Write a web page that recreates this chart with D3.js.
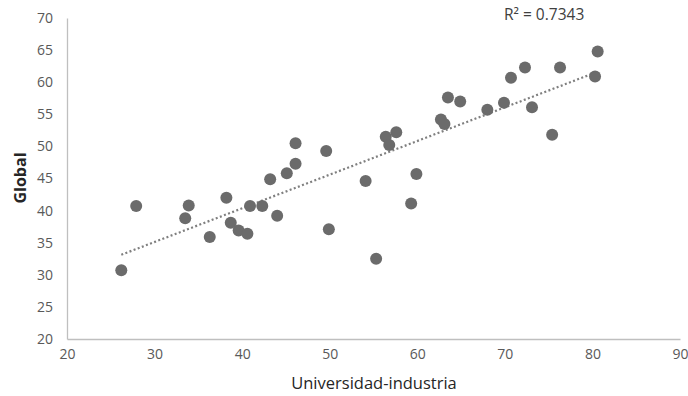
<!DOCTYPE html>
<html>
<head>
<meta charset="utf-8">
<script src="https://cdn.jsdelivr.net/npm/d3@7"></script>
<style>
  body { margin: 0; background: #fff; }
  text { font-family: "Open Sans", sans-serif; }
</style>
</head>
<body>
<script>
// data
var uniInd = [26.2, 27.9, 33.5, 33.9, 36.3, 38.2, 38.7, 39.6, 40.6, 40.9, 42.3, 44.0, 43.2, 45.1, 46.1, 46.1,
  49.6, 49.9, 54.1, 55.3, 56.4, 56.8, 57.6, 59.3, 59.9, 62.7, 63.1, 63.5, 64.9, 68.0, 69.9, 70.7, 72.3, 73.1,
  75.4, 76.3, 80.3, 80.6];
var global = [30.7, 40.7, 38.8, 40.8, 35.9, 42.0, 38.1, 36.9, 36.4, 40.7, 40.7, 39.2, 44.9, 45.8, 50.5, 47.3,
  49.3, 37.1, 44.6, 32.5, 51.5, 50.2, 52.2, 41.1, 45.7, 54.2, 53.5, 57.6, 57.0, 55.7, 56.8, 60.7, 62.3, 56.1,
  51.8, 62.3, 60.9, 64.8];
var xTicks = [20, 30, 40, 50, 60, 70, 80, 90];
var yTicks = [20, 25, 30, 35, 40, 45, 50, 55, 60, 65, 70];
var r2Label = "R\u00b2 = 0.7343";

var svgWidth = 688, svgHeight = 396;
var margin = {top: 18, right: 8, bottom: 57, left: 67};
var width = svgWidth - margin.left - margin.right;
var height = svgHeight - margin.top - margin.bottom;

var svg = d3.select("body").append("svg").attr("width", svgWidth).attr("height", svgHeight);
var chart = svg.append("g").attr("transform", `translate(${margin.left},${margin.top})`);

var x = d3.scaleLinear().domain([20, 90]).range([0, width]);
var y = d3.scaleLinear().domain([20, 70]).range([height, 0]);

var pts = uniInd.map(function(v, i) { return {x: v, y: global[i]}; });

// axes
chart.append("g")
  .attr("transform", "translate(0," + height + ")")
  .call(d3.axisBottom(x).tickValues(xTicks).tickSize(0).tickPadding(10))
  .call(function(g) {
    g.select(".domain").attr("stroke", "#bfbfbf").attr("stroke-width", 1.3);
    g.selectAll("text").attr("fill", "#595959").style("font-size", "14px").attr("font-family", null);
  });

chart.append("g")
  .call(d3.axisLeft(y).tickValues(yTicks).tickSize(0).tickPadding(14))
  .call(function(g) {
    g.select(".domain").attr("stroke", "#bfbfbf").attr("stroke-width", 1.3);
    g.selectAll("text").attr("fill", "#595959").style("font-size", "14px").attr("font-family", null);
  });

// axis titles
svg.append("text")
  .attr("text-anchor", "middle")
  .attr("x", 374).attr("y", 389)
  .attr("fill", "#262626")
  .style("font-size", "16.5px")
  .text("Universidad-industria");

svg.append("text")
  .attr("text-anchor", "middle")
  .attr("transform", "translate(26,178)rotate(-90)")
  .attr("fill", "#262626")
  .style("font-size", "16px")
  .style("font-weight", "bold")
  .text("Global");

// linear trend from the points
var mx = d3.mean(uniInd), my = d3.mean(global);
var slope = d3.sum(pts, function(d) { return (d.x - mx) * (d.y - my); }) /
  d3.sum(pts, function(d) { return (d.x - mx) * (d.x - mx); });
var icpt = my - slope * mx;
var xr = d3.extent(uniInd);

chart.append("line")
  .attr("x1", x(xr[0])).attr("y1", y(icpt + slope * xr[0]))
  .attr("x2", x(xr[1])).attr("y2", y(icpt + slope * xr[1]))
  .attr("stroke", "#7f7f7f")
  .attr("stroke-width", 2.2)
  .attr("stroke-dasharray", "2,2.4");

// points
chart.selectAll(".dot")
  .data(pts)
  .enter().append("circle")
  .attr("class", "dot")
  .attr("r", 6)
  .attr("cx", function(d) { return x(d.x); })
  .attr("cy", function(d) { return y(d.y); })
  .attr("fill", "#6b6b6b");

// r squared
svg.append("text")
  .attr("x", 504).attr("y", 20)
  .attr("fill", "#404040")
  .style("font-size", "15.5px")
  .text(r2Label);
</script>
</body>
</html>
